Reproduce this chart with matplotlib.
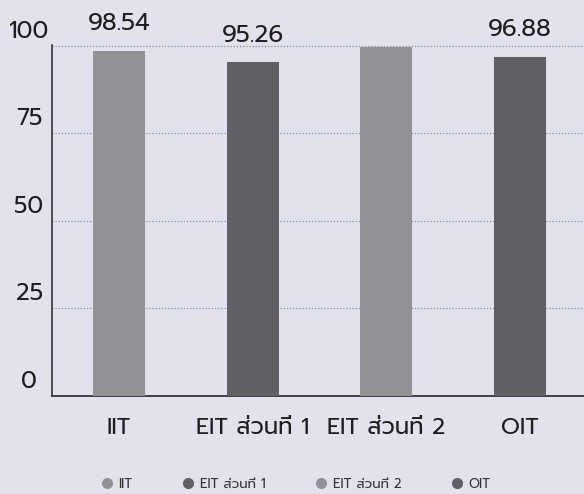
import matplotlib
matplotlib.use("Agg")
import matplotlib.pyplot as plt
from matplotlib.lines import Line2D

# data
categories = ["IIT", "EIT ส่วนที่ 1", "EIT ส่วนที่ 2", "OIT"]
scores = [98.54, 95.26, 99.7, 96.88]
value_labels = ["98.54", "95.26", "", "96.88"]   # the 3rd bar has no label printed
yticks = [0, 25, 50, 75, 100]

bg = "#e1e2ec"
light_gray = "#919196"
dark_gray = "#5f5f64"
bar_colors = [light_gray, dark_gray, light_gray, dark_gray]

font = ["Prompt", "DejaVu Sans"]
plt.rcParams["font.family"] = font
plt.rcParams["font.weight"] = "normal"

fig = plt.figure(figsize=(5.84, 4.94), dpi=100, facecolor=bg)
ax = fig.add_axes([52 / 584, 98 / 494, 535 / 584, 351 / 494], facecolor=bg)

x = list(range(len(categories)))
ax.bar(x, scores, width=0.39, color=bar_colors, zorder=3)

ax.set_xlim(-0.5, 3.5)
ax.set_ylim(0, 100.2)
ax.set_yticks(yticks)
ax.tick_params(axis="y", length=0, labelleft=False)
ax.grid(axis="y", linestyle=(0, (1, 1.5)), color="#8a8ba0", linewidth=0.9, zorder=0)

# y labels sit above their gridlines, centred left of the axis
for v in yticks:
    ax.annotate(str(v), xy=(0, v), xycoords=("axes fraction", "data"),
                xytext=(-16.5, 10.5), textcoords="offset points",
                ha="center", va="center", fontsize=17, color="#1e1e1e")

ax.set_xticks(x)
ax.set_xticklabels(categories, fontsize=16.5, color="#1e1e1e")
ax.tick_params(axis="x", length=0, pad=16)

for xi, v, lab in zip(x, scores, value_labels):
    if lab:
        ax.annotate(lab, xy=(xi, v), xytext=(0, 19.5), textcoords="offset points",
                    ha="center", va="center", fontsize=17.5, color="#1e1e1e")

for side in ["top", "right"]:
    ax.spines[side].set_visible(False)
ax.spines["left"].set_color("#333333")
ax.spines["left"].set_linewidth(1.2)
ax.spines["bottom"].set_color("#333333")
ax.spines["bottom"].set_linewidth(1.3)

handles = [Line2D([], [], marker="o", linestyle="none", markersize=7,
                  markerfacecolor=c, markeredgecolor=c) for c in bar_colors]
fig.legend(handles, categories, loc="center", bbox_to_anchor=(296 / 584, 1 - 484 / 494),
           ncol=4, frameon=False, fontsize=9.5, handlelength=0.8, handletextpad=0.5,
           columnspacing=3.8, labelcolor="#333333")

fig.savefig("out.png", facecolor=bg)
